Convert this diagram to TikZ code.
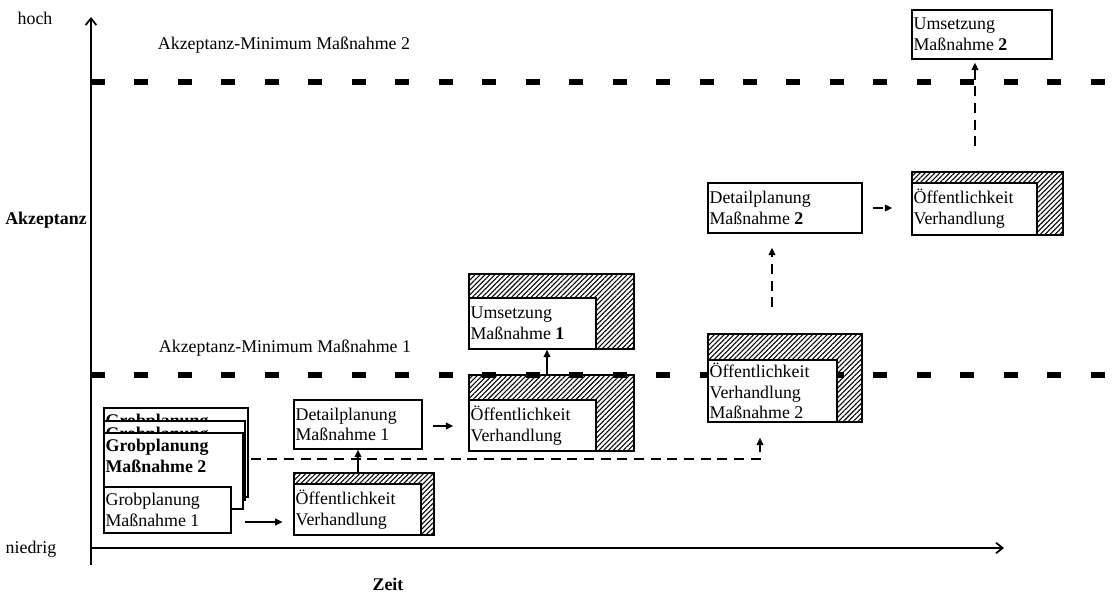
\documentclass[tikz,border=0pt]{standalone}
\usepackage{fontspec}
\setmainfont{Liberation Serif}
\usetikzlibrary{arrows.meta,patterns.meta,fit,calc}

\tikzset{
  frame/.style={draw, line width=1.2pt, fill=white, inner sep=0pt},
  hatchframe/.style={draw, line width=1.2pt, inner sep=0pt,
    pattern={Lines[angle=45,distance=2.6pt,line width=0.8pt]}},
  txt/.style={inner xsep=1.6pt, inner ysep=0pt, align=left,
    font=\fontsize{13.4pt}{15.5pt}\selectfont},
  lbl/.style={inner sep=0pt, font=\fontsize{13.4pt}{15.5pt}\selectfont},
  bigdash/.style={line width=4.8pt, dash pattern=on 10.5pt off 22.1pt},
  conn/.style={line width=1.2pt, -{Triangle[length=5.5pt,width=5pt]}},
  dconn/.style={conn, dash pattern=on 7.5pt off 5pt},
  axisline/.style={line width=1.3pt, -{Straight Barb[length=5pt,width=8pt]}},
}

\newcommand\mybox[6]{%
  \node[frame, fit={(#2,#3)(#4,#5)}] (#1) {};
  \node[txt, anchor=west] (#1-t) at (#1.west) {#6};
}
\newcommand\mystack[6]{%
  \node[frame, fit={(#2,#3)(#4,#5)}] (#1) {};
  \node[txt, anchor=north west, inner ysep=5pt] (#1-t) at (#1.north west) {#6};
}
\newcommand\myhatch[8]{%
  \node[hatchframe, fit={(#2,#3)(#4,#5)}] (#1) {};
  \node[frame, fit={(#2,#7)(#6,#5)}] (#1-in) {};
  \node[txt, anchor=west] (#1-t) at (#1-in.west) {#8};
}

\begin{document}
\begin{tikzpicture}[x=0.75pt, y=-0.75pt]
\useasboundingbox (0,0) rectangle (1113,598);

% axes
\coordinate (ybot) at (91,565);
\coordinate (ytop) at (91,17);
\coordinate (xleft) at (91,548);
\coordinate (xright) at (1004,548);
\draw[axisline] (ybot) -- (ytop);
\draw[axisline] (xleft) -- (xright);

% acceptance minimum lines
\coordinate (m2a) at (91,82);
\coordinate (m2b) at (1113,82);
\coordinate (m1a) at (91,375);
\coordinate (m1b) at (1113,375);
\draw[bigdash] (m2a) -- (m2b);
\draw[bigdash] (m1a) -- (m1b);

% labels
\node[lbl] (hoch) at (35,18) {hoch};
\node[lbl] (akz) at (46,220) {\textbf{Akzeptanz}};
\node[lbl] (niedrig) at (31,549) {niedrig};
\node[lbl] (zeit) at (388,584) {\textbf{Zeit}};
\node[lbl] (min2) at (284,45) {Akzeptanz-Minimum Maßnahme 2};
\node[lbl] (min1) at (285,348) {Akzeptanz-Minimum Maßnahme 1};

% Grobplanung stack
\mystack{gp2a}{104}{408}{248}{497}{\textbf{Grobplanung}}
\mystack{gp2b}{104}{421}{245}{500}{\textbf{Grobplanung}}
\mystack{gp2c}{104}{433}{243}{509}{\textbf{Grobplanung}\\\textbf{Maßnahme 2}}
\mybox{gp1}{104}{487}{231}{533}{Grobplanung\\Maßnahme 1}

% Massnahme 1 chain
\myhatch{oe1}{294}{473}{434}{535}{421}{484}{Öffentlichkeit\\Verhandlung}
\mybox{det1}{294}{400}{422}{449}{Detailplanung\\Maßnahme 1}
\myhatch{oe2}{469}{375}{634}{451}{596}{400}{Öffentlichkeit\\Verhandlung}
\myhatch{ums1}{469}{274}{634}{349}{596}{298}{Umsetzung\\Maßnahme \textbf{1}}

% Massnahme 2 chain
\myhatch{oe3}{708}{334}{862}{422}{837}{360}{Öffentlichkeit\\Verhandlung\\Maßnahme 2}
\mybox{det2}{708}{183}{862}{233}{Detailplanung\\Maßnahme \textbf{2}}
\myhatch{oe4}{912}{172}{1063}{235}{1037}{183}{Öffentlichkeit\\Verhandlung}
\mybox{ums2}{912}{10}{1052}{59}{Umsetzung\\Maßnahme \textbf{2}}

% connectors
\draw[conn] ($(gp1.east)+(13,12)$) -- ($(oe1.west |- gp1.east)+(-11,12)$);
\draw[conn] (det1.south |- oe1.north) -- (det1.south);
\draw[conn] ($(det1.east)+(10,1.5)$) -- ($(oe2.west |- det1.east)+(-15,1.5)$);
\draw[conn] ($(oe2.north)+(-4.5,0)$) -- ($(ums1.south)+(-4.5,0)$);

\draw[dconn] ($(gp2c.east)+(7,-12)$) -| ($(oe3.south)+(-25,15)$);
\draw[dconn] ($(oe3.north)+(-13,-26)$) -- ($(det2.south)+(-13,14)$);
\draw[dconn] ($(det2.east)+(10,0)$) -- ($(oe4.west |- det2.east)+(-19,0)$);
\draw[dconn] ($(oe4.north)+(-12.5,-25)$) -- ($(ums2.south)+(-7,3)$);
\end{tikzpicture}
\end{document}
